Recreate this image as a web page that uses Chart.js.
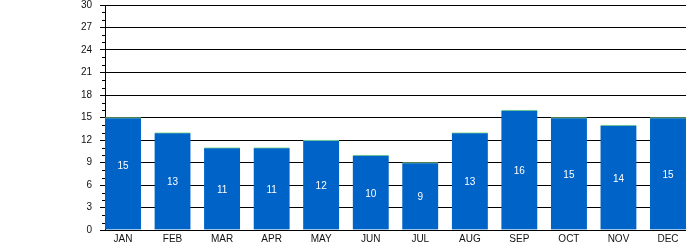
<!DOCTYPE html>
<html>
<head>
<meta charset="utf-8">
<script src="https://cdn.jsdelivr.net/npm/chart.js@4/dist/chart.umd.min.js"></script>
<style>
  html, body { margin: 0; padding: 0; background: #fff; }
  canvas { display: block; }
</style>
</head>
<body>
<canvas id="c" width="700" height="250"></canvas>
<script>
const months = ["JAN","FEB","MAR","APR","MAY","JUN","JUL","AUG","SEP","OCT","NOV","DEC"];
const values = [15, 13, 11, 11, 12, 10, 9, 13, 16, 15, 14, 15];
const yMin = 0, yMax = 30, yStep = 3, yMinorStep = 1;

const minorTicks = {
  id: 'minorTicks',
  afterDraw(chart) {
    const s = chart.scales.y, ctx = chart.ctx;
    const x = chart.chartArea.left;
    ctx.save();
    ctx.strokeStyle = '#000';
    ctx.lineWidth = 1;
    for (let v = yMin; v <= yMax; v += yMinorStep) {
      if (v % yStep === 0) continue;
      const y = Math.round(s.getPixelForValue(v)) + 0.5;
      ctx.beginPath();
      ctx.moveTo(x - 3, y);
      ctx.lineTo(x, y);
      ctx.stroke();
    }
    ctx.restore();
  }
};

const barLabels = {
  id: 'barLabels',
  afterDatasetsDraw(chart, args, opts) {
    const ctx = chart.ctx;
    const meta = chart.getDatasetMeta(0);
    ctx.save();
    ctx.fillStyle = '#fff';
    ctx.font = '10px "Liberation Sans", Arial, sans-serif';
    ctx.textAlign = 'center';
    ctx.textBaseline = 'middle';
    meta.data.forEach((el, i) => {
      const shift = (opts.shift && opts.shift[i]) || 0;
      const y = (el.y + el.base) / 2 + 1.5 + shift;
      ctx.fillText(String(values[i]), el.x, y);
    });
    ctx.restore();
  }
};

function noPad(scale) {
  scale.paddingLeft = 0; scale.paddingRight = 0;
  scale.paddingTop = 0; scale.paddingBottom = 0;
}

new Chart(document.getElementById('c'), {
  type: 'bar',
  data: {
    datasets: [{
      data: values.map((v, i) => ({ x: i, y: v })),
      backgroundColor: '#0063c8',
      borderColor: '#8fe38f',
      borderWidth: { top: 1, left: 0, right: 0, bottom: 0 },
      borderSkipped: false,
      barThickness: 36
    }]
  },
  options: {
    responsive: false,
    animation: false,
    devicePixelRatio: 1,
    layout: { padding: { top: 5, right: 14, left: 0, bottom: 0 } },
    plugins: {
      legend: { display: false },
      tooltip: { enabled: false },
      barLabels: { shift: { 0: -9 } }
    },
    scales: {
      x: {
        type: 'linear',
        offset: false,
        min: -0.363,
        max: 11.363,
        afterBuildTicks(scale) { scale.ticks = months.map((m, i) => ({ value: i })); },
        afterFit(scale) { scale.height = 20; noPad(scale); },
        grid: { display: false, drawTicks: false, offset: false },
        border: { display: false },
        ticks: {
          autoSkip: false,
          maxRotation: 0,
          padding: 3,
          color: '#111',
          font: { family: '"Liberation Sans", Arial, sans-serif', size: 10 },
          callback: (v) => months[v]
        }
      },
      y: {
        min: yMin,
        max: yMax,
        afterFit(scale) { scale.width = 105; noPad(scale); },
        ticks: {
          stepSize: yStep,
          padding: 8,
          color: '#111',
          font: { family: '"Liberation Sans", Arial, sans-serif', size: 10 }
        },
        grid: { color: '#000', tickColor: '#000', tickLength: 5, lineWidth: 1 },
        border: { display: true, color: '#000', width: 1 }
      }
    }
  },
  plugins: [minorTicks, barLabels]
});
</script>
</body>
</html>
